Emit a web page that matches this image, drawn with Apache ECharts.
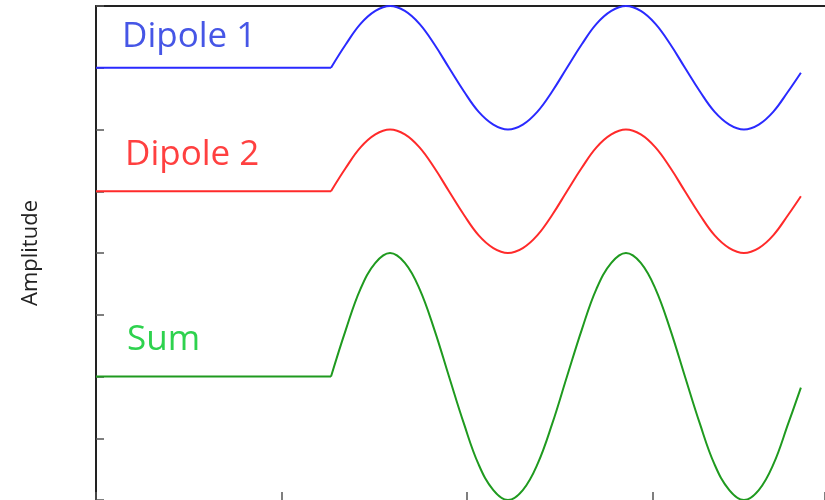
<!DOCTYPE html>
<html>
<head>
<meta charset="utf-8">
<title>Dipole sum</title>
<script src="https://cdn.jsdelivr.net/npm/echarts/dist/echarts.min.js"></script>
<style>
  html, body { margin: 0; padding: 0; background: #fff; }
  #main { width: 825px; height: 500px; }
</style>
</head>
<body>
<div id="main"></div>
<script>
  // sample positions (x axis units, one tick = 1); '-' breaks the line at the corner
  const xs = [0, 1.267, 1.267, 1.267, 1.347, 1.426, 1.506, 1.585, 1.665, 1.744, 1.824,
    1.903, 1.983, 2.062, 2.142, 2.221, 2.301, 2.380, 2.460,
    2.539, 2.619, 2.698, 2.778, 2.857, 2.937, 3.016, 3.096,
    3.175, 3.255, 3.334, 3.414, 3.493, 3.573, 3.652, 3.732, 3.80];

  const dipole1 = [5, 5, '-', 5, 5.38, 5.71, 5.92, 6, 5.92, 5.71, 5.38,
    5, 4.62, 4.29, 4.08, 4, 4.08, 4.29, 4.62,
    5, 5.38, 5.71, 5.92, 6, 5.92, 5.71, 5.38,
    5, 4.62, 4.29, 4.08, 4, 4.08, 4.29, 4.62, 4.92];

  const dipole2 = [3, 3, '-', 3, 3.38, 3.71, 3.92, 4, 3.92, 3.71, 3.38,
    3, 2.62, 2.29, 2.08, 2, 2.08, 2.29, 2.62,
    3, 3.38, 3.71, 3.92, 4, 3.92, 3.71, 3.38,
    3, 2.62, 2.29, 2.08, 2, 2.08, 2.29, 2.62, 2.92];

  const sum = [0, 0, '-', 0, 0.76, 1.42, 1.84, 2, 1.84, 1.42, 0.76,
    0, -0.76, -1.42, -1.84, -2, -1.84, -1.42, -0.76,
    0, 0.76, 1.42, 1.84, 2, 1.84, 1.42, 0.76,
    0, -0.76, -1.42, -1.84, -2, -1.84, -1.42, -0.76, -0.18];

  const pairs = (ys) => xs.map((x, i) => [x, ys[i]]);

  const font = '"Open Sans", "Noto Sans", sans-serif';
  const tickStyle = { show: true, inside: true, length: 8, lineStyle: { color: '#555', width: 1.5 } };

  const myChart = echarts.init(document.getElementById('main'));
  myChart.setOption({
    animation: false,
    grid: { left: 96, top: 6, right: 0, bottom: 0 },
    xAxis: [
      {
        type: 'value', min: 0, max: 3.93, interval: 1,
        axisLine: { show: false, onZero: false },
        axisTick: tickStyle,
        axisLabel: { show: false },
        splitLine: { show: false }
      },
      {
        // top frame line
        type: 'value', position: 'top', min: 0, max: 3.93, interval: 1,
        axisLine: { show: true, onZero: false, lineStyle: { color: '#222', width: 2 } },
        axisTick: { show: false },
        axisLabel: { show: false },
        splitLine: { show: false }
      }
    ],
    yAxis: {
      type: 'value', min: -2, max: 6, interval: 1,
      name: 'Amplitude',
      nameLocation: 'middle',
      nameRotate: 90,
      nameGap: 54,
      nameTextStyle: { fontFamily: font, fontSize: 22, color: '#222' },
      axisLine: { show: true, onZero: false, lineStyle: { color: '#222', width: 2 } },
      axisTick: tickStyle,
      axisLabel: { show: false },
      splitLine: { show: false }
    },
    series: [
      {
        name: 'Dipole 1', type: 'line', data: pairs(dipole1),
        smooth: 0.4, showSymbol: false, clip: false, connectNulls: false,
        lineStyle: { color: '#2a2aff', width: 2 }
      },
      {
        name: 'Dipole 2', type: 'line', data: pairs(dipole2),
        smooth: 0.4, showSymbol: false, connectNulls: false,
        lineStyle: { color: '#ff2a2a', width: 2 }
      },
      {
        name: 'Sum', type: 'line', data: pairs(sum),
        smooth: 0.4, showSymbol: false, connectNulls: false,
        lineStyle: { color: '#1f9a1f', width: 2 }
      }
    ],
    graphic: [
      { type: 'text', left: 122, top: 20, style: { text: 'Dipole 1', fill: '#4656e6', font: '35px ' + font } },
      { type: 'text', left: 125, top: 138, style: { text: 'Dipole 2', fill: '#ff4040', font: '35px ' + font } },
      { type: 'text', left: 127, top: 323, style: { text: 'Sum', fill: '#2ed24e', font: '35px ' + font } }
    ]
  });

  window.addEventListener('resize', function () {
    myChart.resize()
  })
</script>
</body>
</html>
